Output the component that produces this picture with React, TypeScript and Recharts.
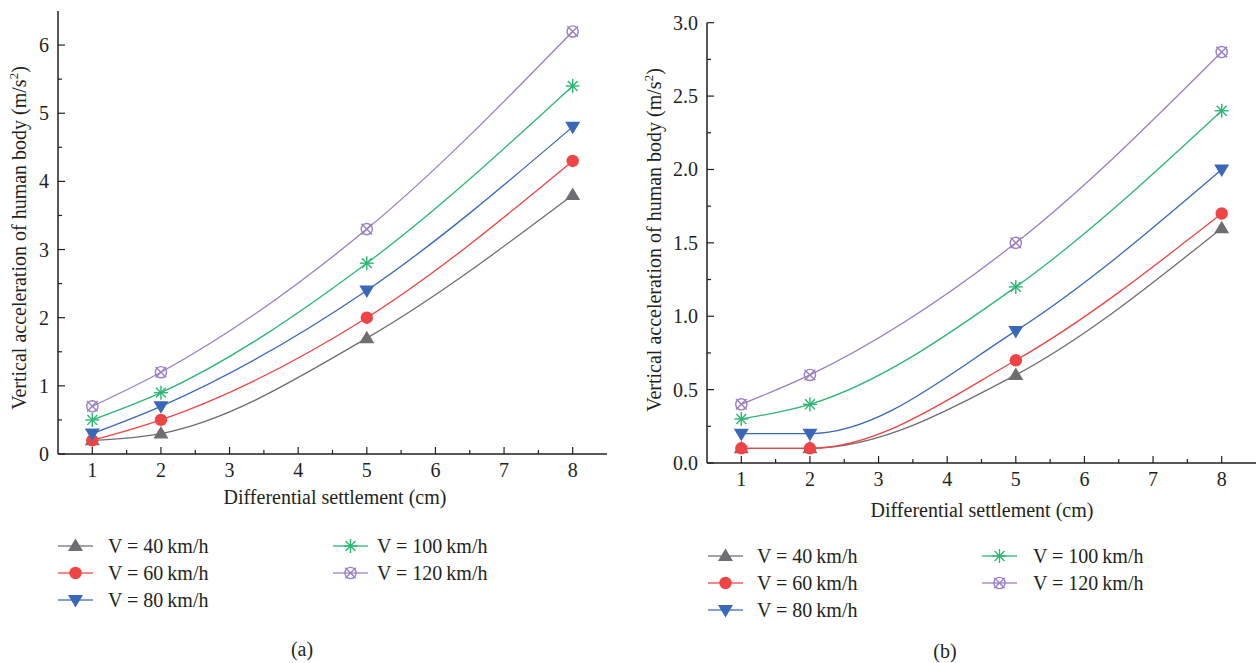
import React from 'react';
import { LineChart, Line, XAxis, YAxis } from 'recharts';

// ---------- data ----------
const settlement = [1, 2, 5, 8];

// panel (a)
const a40 = [0.2, 0.3, 1.7, 3.8];
const a60 = [0.2, 0.5, 2.0, 4.3];
const a80 = [0.3, 0.7, 2.4, 4.8];
const a100 = [0.5, 0.9, 2.8, 5.4];
const a120 = [0.7, 1.2, 3.3, 6.2];

// panel (b)
const b40 = [0.1, 0.1, 0.6, 1.6];
const b60 = [0.1, 0.1, 0.7, 1.7];
const b80 = [0.2, 0.2, 0.9, 2.0];
const b100 = [0.3, 0.4, 1.2, 2.4];
const b120 = [0.4, 0.6, 1.5, 2.8];

const seriesKeys = ['s40', 's60', 's80', 's100', 's120'];
const seriesNames = ['V = 40\u2009km/h', 'V = 60\u2009km/h', 'V = 80\u2009km/h', 'V = 100\u2009km/h', 'V = 120\u2009km/h'];

const xTicks = [1, 1.5, 2, 2.5, 3, 3.5, 4, 4.5, 5, 5.5, 6, 6.5, 7, 7.5, 8];
const yTicksA = [0, 0.5, 1, 1.5, 2, 2.5, 3, 3.5, 4, 4.5, 5, 5.5, 6];
const yTicksB = [0, 0.25, 0.5, 0.75, 1, 1.25, 1.5, 1.75, 2, 2.25, 2.5, 2.75, 3];

const buildRows = (cols: number[][]) =>
  settlement.map((x, i) => {
    const row: any = { x };
    seriesKeys.forEach((k, j) => (row[k] = cols[j][i]));
    return row;
  });

const dataA = buildRows([a40, a60, a80, a100, a120]);
const dataB = buildRows([b40, b60, b80, b100, b120]);

// ---------- styles ----------
const FONT = '"Liberation Serif", "DejaVu Serif", serif';
const AXIS = '#231f20';
const COLORS = ['#6d6e71', '#ef4444', '#3a68b8', '#2bb673', '#9b7fc3'];
const MARKERS = ['up', 'circle', 'down', 'star', 'xcircle'];

const Marker = ({ cx, cy, type, color }: any) => {
  if (cx == null || cy == null) return null;
  switch (type) {
    case 'up':
      return <polygon points={`${cx},${cy - 7.5} ${cx - 7.5},${cy + 5} ${cx + 7.5},${cy + 5}`} fill={color} />;
    case 'down':
      return <polygon points={`${cx - 7.5},${cy - 5} ${cx + 7.5},${cy - 5} ${cx},${cy + 7.5}`} fill={color} />;
    case 'circle':
      return <circle cx={cx} cy={cy} r={6.2} fill={color} />;
    case 'star': {
      const r = 7;
      const d = r * 0.7071;
      return (
        <g stroke={color} strokeWidth={1.4}>
          <line x1={cx - r} y1={cy} x2={cx + r} y2={cy} />
          <line x1={cx} y1={cy - r} x2={cx} y2={cy + r} />
          <line x1={cx - d} y1={cy - d} x2={cx + d} y2={cy + d} />
          <line x1={cx - d} y1={cy + d} x2={cx + d} y2={cy - d} />
        </g>
      );
    }
    default: {
      const s = 5.3;
      return (
        <g stroke={color} strokeWidth={1.4} fill="none">
          <circle cx={cx} cy={cy} r={5.6} />
          <line x1={cx - s} y1={cy - s} x2={cx + s} y2={cy + s} />
          <line x1={cx - s} y1={cy + s} x2={cx + s} y2={cy - s} />
        </g>
      );
    }
  }
};

const XTick = (props: any) => {
  const { x, y, payload } = props;
  const v = payload.value;
  const major = Number.isInteger(v);
  return (
    <g>
      <line x1={x} x2={x} y1={y} y2={y - (major ? 7 : 4)} stroke={AXIS} strokeWidth={1.2} />
      {major && (
        <text x={x} y={y + 23} textAnchor="middle" fontFamily={FONT} fontSize={20} fill={AXIS}>
          {v}
        </text>
      )}
    </g>
  );
};

const makeYTick = (isMajor: (v: number) => boolean, fmt: (v: number) => string) => (props: any) => {
  const { x, y, payload } = props;
  const v = payload.value;
  const major = isMajor(v);
  return (
    <g>
      <line x1={x} x2={x + (major ? 7 : 4)} y1={y} y2={y} stroke={AXIS} strokeWidth={1.2} />
      {major && (
        <text x={x - 9} y={y + 7} textAnchor="end" fontFamily={FONT} fontSize={20} fill={AXIS}>
          {fmt(v)}
        </text>
      )}
    </g>
  );
};

const YTickA = makeYTick((v) => Number.isInteger(v), (v) => String(v));
const YTickB = makeYTick((v) => Number.isInteger(v * 2), (v) => v.toFixed(1));

const Panel = ({ data, width, height, margin, yWidth, xHeight, yDomain, yTicks, YTick }: any) => (
  <LineChart width={width} height={height} data={data} margin={margin}>
    <XAxis
      xAxisId="top"
      orientation="top"
      type="number"
      dataKey="x"
      domain={[0.5, 8.5]}
      height={0}
      tick={false}
      tickLine={false}
      axisLine={{ stroke: AXIS, strokeWidth: 1.5 }}
    />
    <YAxis
      yAxisId="right"
      orientation="right"
      type="number"
      domain={yDomain}
      width={0}
      tick={false}
      tickLine={false}
      axisLine={{ stroke: AXIS, strokeWidth: 1.5 }}
    />
    <XAxis
      dataKey="x"
      type="number"
      domain={[0.5, 8.5]}
      ticks={xTicks}
      interval={0}
      height={xHeight}
      tickSize={0}
      tickMargin={0}
      tickLine={false}
      tick={<XTick />}
      axisLine={{ stroke: AXIS, strokeWidth: 1.5 }}
    />
    <YAxis
      type="number"
      domain={yDomain}
      ticks={yTicks}
      interval={0}
      width={yWidth}
      tickSize={0}
      tickMargin={0}
      tickLine={false}
      tick={<YTick />}
      axisLine={{ stroke: AXIS, strokeWidth: 1.5 }}
    />
    {seriesKeys.map((k, i) => (
      <Line
        key={k}
        dataKey={k}
        type="monotone"
        stroke={COLORS[i]}
        strokeWidth={1.3}
        isAnimationActive={false}
        dot={(p: any) => <Marker key={`${k}-${p.index}`} cx={p.cx} cy={p.cy} type={MARKERS[i]} color={COLORS[i]} />}
        activeDot={false}
      />
    ))}
  </LineChart>
);

const LegendItem = ({ i, x, y }: any) => (
  <div style={{ position: 'absolute', left: x, top: y - 10, height: 20, display: 'flex', alignItems: 'center', whiteSpace: 'nowrap' }}>
    <svg width={36} height={20} style={{ display: 'block' }}>
      <line x1={0} x2={35} y1={10} y2={10} stroke={COLORS[i]} strokeWidth={1.6} strokeOpacity={0.85} />
      <Marker cx={17.5} cy={10} type={MARKERS[i]} color={COLORS[i]} />
    </svg>
  </div>
);

const LegendText = ({ i, x, y }: any) => (
  <div style={{ position: 'absolute', left: x, top: y - 12, lineHeight: '24px', fontFamily: FONT, fontSize: 20, color: AXIS, whiteSpace: 'nowrap' }}>
    {seriesNames[i]}
  </div>
);

const YTitle = ({ cx, cy }: any) => (
  <div
    style={{
      position: 'absolute',
      left: cx,
      top: cy,
      transform: 'translate(-50%, -50%) rotate(-90deg)',
      fontFamily: FONT,
      fontSize: 20,
      color: AXIS,
      whiteSpace: 'nowrap',
      lineHeight: '24px',
    }}
  >
    Vertical acceleration of human body (m/s<sup style={{ fontSize: 13, lineHeight: 0 }}>2</sup>)
  </div>
);

const CenterText = ({ cx, cy, children }: any) => (
  <div
    style={{
      position: 'absolute',
      left: cx,
      top: cy,
      transform: 'translate(-50%, -50%)',
      fontFamily: FONT,
      fontSize: 20,
      color: AXIS,
      whiteSpace: 'nowrap',
      lineHeight: '24px',
    }}
  >
    {children}
  </div>
);

export default function App() {
  const legA = { c1: 58, t1: 108, c2: 333, t2: 377, rows: [546, 573, 600] };
  const legB = { c1: 708, t1: 757, c2: 982, t2: 1033, rows: [556, 583, 610] };
  const renderLegend = (L: any) => (
    <>
      {[0, 1, 2].map((i) => (
        <React.Fragment key={`l${i}`}>
          <LegendItem i={i} x={L.c1} y={L.rows[i]} />
          <LegendText i={i} x={L.t1} y={L.rows[i]} />
        </React.Fragment>
      ))}
      {[3, 4].map((i, r) => (
        <React.Fragment key={`r${i}`}>
          <LegendItem i={i} x={L.c2} y={L.rows[r]} />
          <LegendText i={i} x={L.t2} y={L.rows[r]} />
        </React.Fragment>
      ))}
    </>
  );

  return (
    <div style={{ position: 'absolute', left: 0, top: 0, width: 1256, height: 663, overflow: 'hidden', background: '#fff' }}>
      <div style={{ position: 'absolute', left: 0, top: 0 }}>
        <Panel
          data={dataA}
          width={620}
          height={480}
          margin={{ top: 11, right: 13, left: 0, bottom: 0 }}
          yWidth={58}
          xHeight={26}
          yDomain={[0, 6.5]}
          yTicks={yTicksA}
          YTick={YTickA}
        />
      </div>
      <div style={{ position: 'absolute', left: 640, top: 0 }}>
        <Panel
          data={dataB}
          width={640}
          height={490}
          margin={{ top: 22.7, right: 24, left: 0, bottom: 0 }}
          yWidth={67}
          xHeight={27}
          yDomain={[0, 3]}
          yTicks={yTicksB}
          YTick={YTickB}
        />
      </div>
      <YTitle cx={19} cy={238} />
      <YTitle cx={654} cy={240} />
      <CenterText cx={335} cy={497}>Differential settlement (cm)</CenterText>
      <CenterText cx={982} cy={510}>Differential settlement (cm)</CenterText>
      {renderLegend(legA)}
      {renderLegend(legB)}
      <CenterText cx={302} cy={649}>(a)</CenterText>
      <CenterText cx={945} cy={651}>(b)</CenterText>
    </div>
  );
}
